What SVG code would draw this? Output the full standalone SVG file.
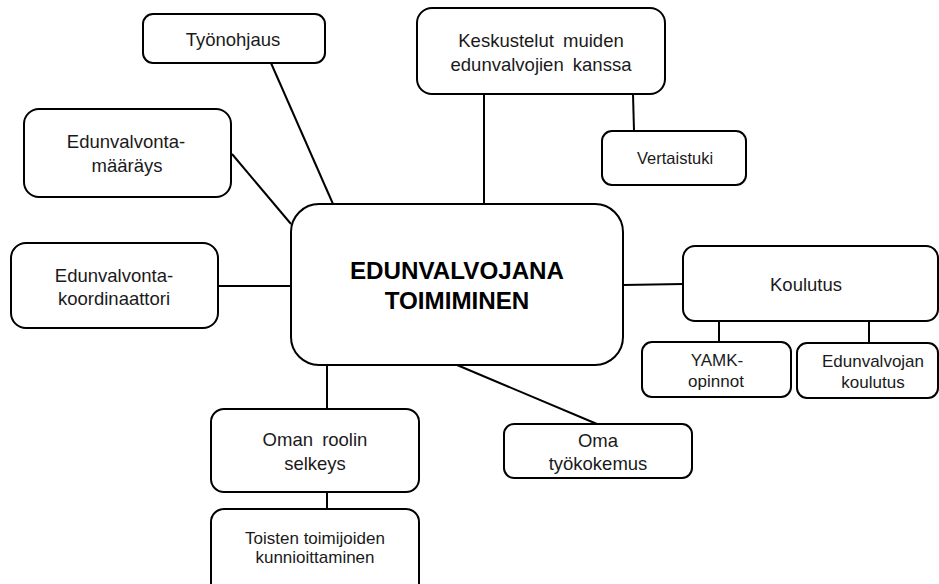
<svg xmlns="http://www.w3.org/2000/svg" width="939" height="584" viewBox="0 0 939 584">
<style>
.box{fill:#fff;stroke:#000;stroke-width:2}
.t{font-family:"Liberation Sans",Arial,sans-serif;font-size:18.5px;fill:#1a1a1a;text-anchor:middle}
.s{font-size:17px}
.v{font-size:16.5px}
.b{font-family:"Liberation Sans",Arial,sans-serif;font-size:24.2px;font-weight:bold;fill:#000;text-anchor:middle}
.c{stroke:#000;stroke-width:2;fill:none}
</style>
<rect width="939" height="584" fill="#fff"/>
<g id="connectors">
<line class="c" x1="271" y1="63" x2="333" y2="204"/>
<line class="c" x1="232" y1="154" x2="291" y2="224"/>
<line class="c" x1="218" y1="286" x2="291" y2="286"/>
<line class="c" x1="484" y1="94" x2="484" y2="204"/>
<line class="c" x1="633" y1="94" x2="634" y2="131"/>
<line class="c" x1="623" y1="285" x2="683" y2="284"/>
<line class="c" x1="719" y1="321" x2="719" y2="342"/>
<line class="c" x1="869" y1="321" x2="869" y2="343"/>
<line class="c" x1="457" y1="365" x2="597" y2="424"/>
<line class="c" x1="327" y1="365" x2="327" y2="409"/>
<line class="c" x1="327" y1="492" x2="327" y2="509"/>
</g>
<g id="center">
<rect class="box" x="291" y="204" width="332" height="161" rx="28"/>
<text class="b" x="457" y="279">EDUNVALVOJANA</text>
<text class="b" x="457" y="309">TOIMIMINEN</text>
</g>
<g id="tyonohjaus">
<rect class="box" x="143" y="14" width="182" height="49" rx="10"/>
<text class="t" x="233" y="46">Työnohjaus</text>
</g>
<g id="maarays">
<rect class="box" x="24" y="109" width="207" height="88" rx="15"/>
<text class="t" x="126" y="148">Edunvalvonta-</text>
<text class="t" x="127" y="172">määräys</text>
</g>
<g id="koordinaattori">
<rect class="box" x="11" y="243" width="207" height="85" rx="15"/>
<text class="t" x="114" y="282">Edunvalvonta-</text>
<text class="t" x="114" y="305">koordinaattori</text>
</g>
<g id="keskustelut">
<rect class="box" x="417" y="8" width="248" height="86" rx="15"/>
<text class="t" x="541" y="47" word-spacing="4">Keskustelut muiden</text>
<text class="t" x="541" y="71" word-spacing="4">edunvalvojien kanssa</text>
</g>
<g id="vertaistuki">
<rect class="box" x="602" y="131" width="144" height="54" rx="10"/>
<text class="t v" x="675" y="164">Vertaistuki</text>
</g>
<g id="koulutus">
<rect class="box" x="683" y="246" width="255" height="75" rx="12"/>
<text class="t" x="806" y="291">Koulutus</text>
</g>
<g id="yamk">
<rect class="box" x="642" y="342" width="149" height="55" rx="10"/>
<text class="t s" x="717" y="366">YAMK-</text>
<text class="t s" x="716" y="387">opinnot</text>
</g>
<g id="edunvalvojan-koulutus">
<rect class="box" x="797" y="343" width="141" height="55" rx="10"/>
<text class="t s" x="873" y="367">Edunvalvojan</text>
<text class="t s" x="873" y="388">koulutus</text>
</g>
<g id="oma-tyokokemus">
<rect class="box" x="504" y="424" width="188" height="54" rx="10"/>
<text class="t" x="598" y="447">Oma</text>
<text class="t" x="598" y="470">työkokemus</text>
</g>
<g id="oman-roolin">
<rect class="box" x="211" y="409" width="208" height="83" rx="13"/>
<text class="t" x="315" y="446" word-spacing="4">Oman roolin</text>
<text class="t" x="315" y="470">selkeys</text>
</g>
<g id="toisten">
<rect class="box" x="211" y="509" width="208" height="91" rx="13"/>
<text class="t s" x="315" y="544">Toisten toimijoiden</text>
<text class="t s" x="315" y="563">kunnioittaminen</text>
</g>
</svg>
